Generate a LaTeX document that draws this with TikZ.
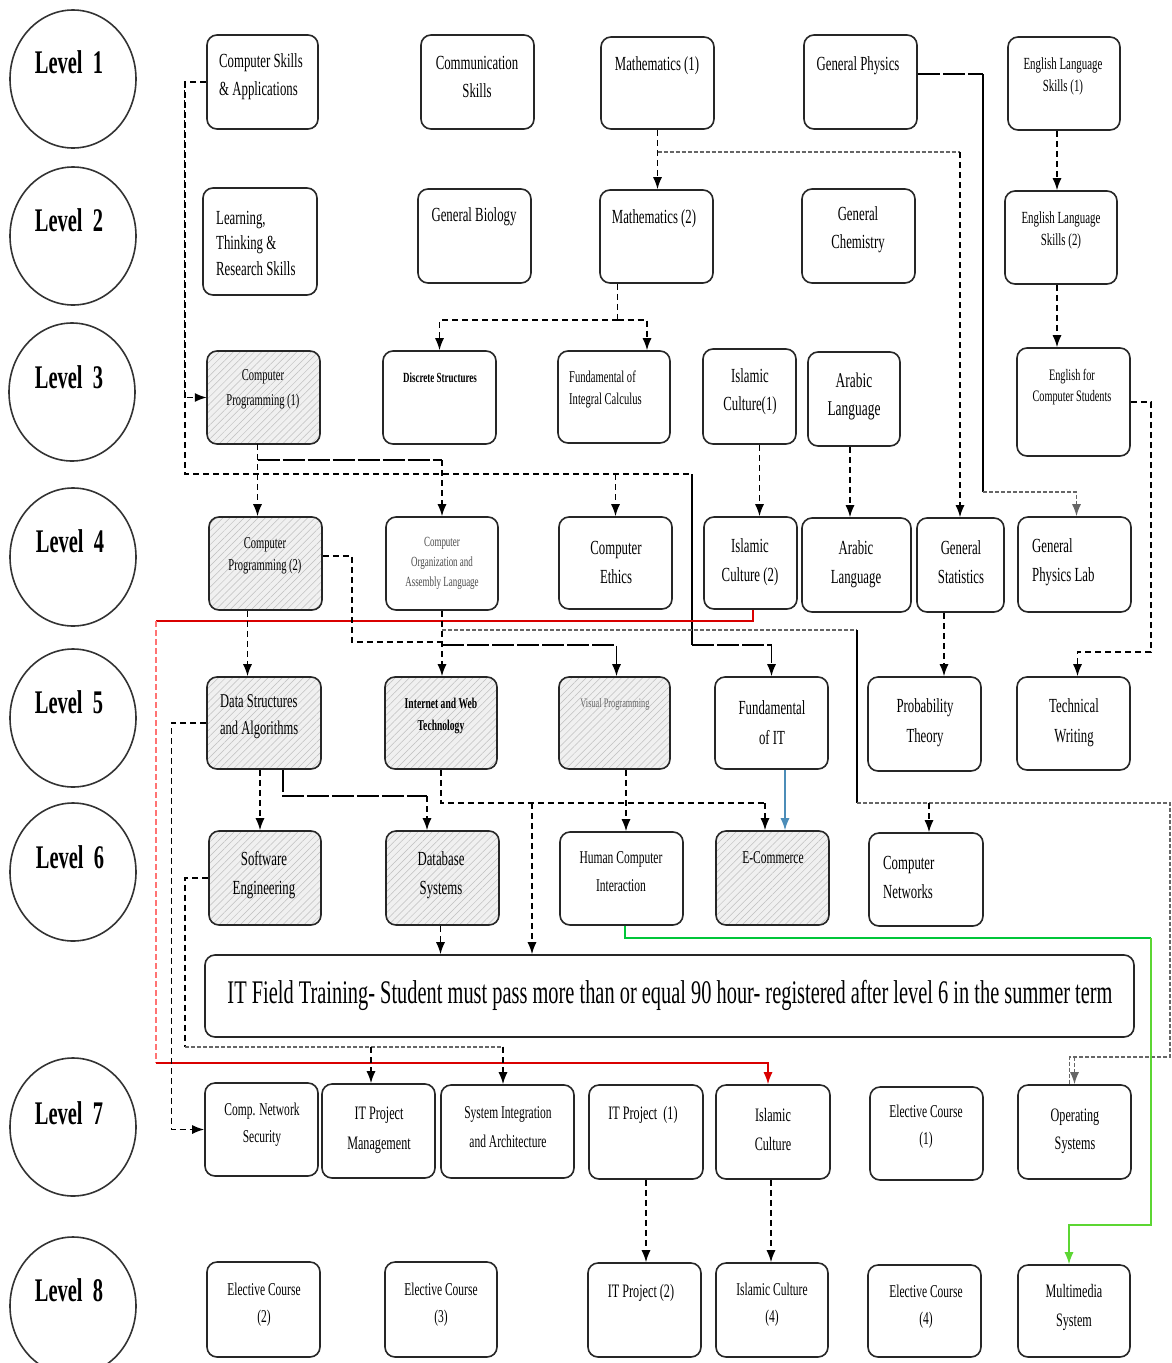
\documentclass[tikz,border=0pt]{standalone}
\usepackage{fontspec}
\usepackage{graphicx}
\newfontfamily\cf{Liberation Serif}[FakeStretch=0.64]
\newfontfamily\lf{Liberation Serif}[FakeStretch=0.62]
\usetikzlibrary{arrows.meta,shapes.geometric,fit,patterns.meta}
\newcommand\fs[2]{\cf\fontsize{#1}{#2}\selectfont}
\newcommand\cbox[6][]{\node[box,#1,fit={(#3,#4) (#5,#6)}] (#2) {};}
\tikzset{
  box/.style={draw=black!85, line width=1.6pt, rounded corners=10pt, inner sep=0pt},
  hatch/.style={preaction={fill=gray!12}, pattern={Lines[angle=45,distance=5pt,line width=0.5pt]}, pattern color=gray!50},
  tx/.style={inner sep=0pt, align=center, font=\fs{20}{28}},
  lvl/.style={ellipse, draw=black!80, line width=1.6pt, minimum width=126pt, minimum height=138pt, inner sep=0pt},
  lvltx/.style={inner sep=0pt, font=\lf\bfseries\fontsize{33}{33}\selectfont},
  conn/.style={line width=1.4pt, draw=black},
  dsh/.style={conn, dash pattern=on 6pt off 4pt},
  ldash/.style={conn, dash pattern=on 22pt off 3pt},
  gd/.style={conn, draw=black!60, dash pattern=on 4pt off 2pt},
  redl/.style={conn, draw=red!85!black},
  redd/.style={conn, draw=red!55, dash pattern=on 6pt off 3pt},
  bluel/.style={conn, draw=blue!40!cyan!60!black!70, line width=1.3pt},
  greenA/.style={conn, draw=green!55!teal, line width=1.3pt},
  greenB/.style={conn, draw=green!60!olive!80, line width=1.3pt},
  >={Latex[length=12pt,width=9pt]}
}
\begin{document}
\begin{tikzpicture}[x=1pt,y=-1pt]
\useasboundingbox (0,0) rectangle (1171,1363);
\fill[white] (0,0) rectangle (1171,1363);

% ---------- level circles ----------
\node[lvl] (L1) at (73,79) {};   \node[lvltx] (L1t) at (69,62) {Level\ \ 1};
\node[lvl] (L2) at (73,236) {};  \node[lvltx] (L2t) at (69,220) {Level\ \ 2};
\node[lvl] (L3) at (72,392) {};  \node[lvltx] (L3t) at (69,377) {Level\ \ 3};
\node[lvl] (L4) at (73,557) {};  \node[lvltx] (L4t) at (70,541) {Level\ \ 4};
\node[lvl] (L5) at (73,718) {};  \node[lvltx] (L5t) at (69,702) {Level\ \ 5};
\node[lvl] (L6) at (73,872) {};  \node[lvltx] (L6t) at (70,857) {Level\ \ 6};
\node[lvl] (L7) at (73,1127) {}; \node[lvltx] (L7t) at (69,1113) {Level\ \ 7};
\node[lvl] (L8) at (73,1306) {}; \node[lvltx] (L8t) at (69,1290) {Level\ \ 8};

% ---------- boxes ----------
\cbox{compskills}{207}{35}{318}{129}
\cbox{comm}{421}{35}{534}{129}
\cbox{math1}{601}{37}{714}{129}
\cbox{gphys}{804}{35}{917}{129}
\cbox{eng1}{1008}{37}{1120}{130}
\cbox{learning}{203}{188}{317}{295}
\cbox{biology}{418}{189}{531}{283}
\cbox{math2}{600}{190}{713}{283}
\cbox{chem}{802}{189}{915}{283}
\cbox{eng2}{1005}{191}{1117}{284}
\cbox[hatch]{cp1}{207}{351}{320}{444}
\cbox{discrete}{383}{351}{496}{444}
\cbox{integral}{558}{351}{670}{443}
\cbox{isl1}{703}{349}{796}{444}
\cbox{arab3}{808}{352}{900}{446}
\cbox{engcs}{1017}{348}{1130}{456}
\cbox[hatch]{cp2}{209}{517}{322}{610}
\cbox{corg}{386}{517}{498}{610}
\cbox{ethics}{559}{517}{672}{609}
\cbox{isl2}{704}{517}{797}{609}
\cbox{arab4}{802}{518}{911}{612}
\cbox{stat}{917}{518}{1004}{612}
\cbox{gplab}{1018}{517}{1131}{612}
\cbox[hatch]{ds}{207}{677}{321}{769}
\cbox[hatch]{web}{385}{677}{497}{769}
\cbox[hatch]{visual}{559}{677}{670}{769}
\cbox{fit}{715}{677}{828}{769}
\cbox{prob}{868}{677}{981}{771}
\cbox{tech}{1017}{677}{1130}{770}
\cbox[hatch]{se}{209}{831}{321}{925}
\cbox[hatch]{db}{386}{831}{499}{925}
\cbox{hci}{560}{832}{683}{925}
\cbox[hatch]{ecom}{716}{831}{829}{925}
\cbox{net}{869}{833}{983}{926}
\cbox{training}{205}{955}{1134}{1037}
\cbox{cns}{205}{1083}{318}{1176}
\cbox{itpm}{322}{1084}{435}{1178}
\cbox{sia}{441}{1085}{574}{1178}
\cbox{itp1}{589}{1085}{703}{1179}
\cbox{isl7}{716}{1085}{830}{1179}
\cbox{el1}{870}{1087}{983}{1180}
\cbox{os}{1018}{1085}{1131}{1179}
\cbox{el2}{207}{1262}{320}{1357}
\cbox{el3}{385}{1262}{497}{1357}
\cbox{itp2}{588}{1263}{701}{1357}
\cbox{isl8}{716}{1263}{828}{1357}
\cbox{el4}{868}{1265}{981}{1357}
\cbox{mm}{1018}{1265}{1130}{1357}

% ---------- texts ----------
\node[tx,anchor=west,align=left] (compskillst) at (219,76.5) {Computer Skills\\\& Applications};
\node[tx] (commt) at (477,76.5) {Communication\\Skills};
\node[tx] (math1t) at (657,66) {Mathematics (1)};
\node[tx] (gphyst) at (858,66) {General Physics};
\node[tx,font=\fs{17}{22}] (eng1t) at (1063,76) {English Language\\Skills (1)};
\node[tx,anchor=west,align=left,font=\fs{20}{25.5}] (learningt) at (216,243) {Learning,\\Thinking \&\\Research Skills};
\node[tx] (biologyt) at (474,217) {General Biology};
\node[tx] (math2t) at (654,219) {Mathematics (2)};
\node[tx] (chemt) at (858,229.5) {General\\Chemistry};
\node[tx,font=\fs{17}{22}] (eng2t) at (1061,230) {English Language\\Skills (2)};
\node[tx,font=\fs{16.5}{25}] (cp1t) at (263,389.5) {Computer\\Programming (1)};
\node[tx,font=\fs{14}{18}\bfseries] (discretet) at (440,378) {Discrete Structures};
\node[tx,anchor=west,align=left,font=\fs{16.5}{22}] (integralt) at (569,389) {Fundamental of\\Integral Calculus};
\node[tx] (isl1t) at (750,391.5) {Islamic\\Culture(1)};
\node[tx,font=\fs{21}{28}] (arab3t) at (854,396) {Arabic\\Language};
\node[tx,font=\fs{16}{21}] (engcst) at (1072,387.5) {English for\\Computer Students};
\node[tx,font=\fs{16.5}{22}] (cp2t) at (265,556) {Computer\\Programming (2)};
\node[tx,font=\fs{14}{20},text=black!70] (corgt) at (442,563) {Computer\\Organization and\\Assembly Language};
\node[tx,font=\fs{20}{29}] (ethicst) at (616,562.5) {Computer\\Ethics};
\node[tx,font=\fs{20}{29}] (isl2t) at (750,562.5) {Islamic\\Culture (2)};
\node[tx,font=\fs{20}{29}] (arab4t) at (856,564) {Arabic\\Language};
\node[tx,font=\fs{20}{29}] (statt) at (961,562.5) {General\\Statistics};
\node[tx,font=\fs{20}{29},anchor=west,align=left] (gplabt) at (1032,562.5) {General\\Physics Lab};
\node[tx,anchor=west,align=left,font=\fs{19.5}{27}] (dst) at (220,716.5) {Data Structures\\and Algorithms};
\node[tx,font=\fs{15}{22}\bfseries] (webt) at (441,716) {Internet and Web\\Technology};
\node[tx,font=\fs{13}{16},text=black!60] (visualt) at (615,704) {Visual Programming};
\node[tx,font=\fs{20}{30}] (fitt) at (772,723) {Fundamental\\of IT};
\node[tx,font=\fs{20}{30}] (probt) at (925,723) {Probability\\Theory};
\node[tx,font=\fs{20}{30}] (techt) at (1074,723) {Technical\\Writing};
\node[tx,font=\fs{20}{29}] (set) at (264,875.5) {Software\\Engineering};
\node[tx,font=\fs{20}{29}] (dbt) at (441,875.5) {Database\\Systems};
\node[tx,font=\fs{18}{28}] (hcit) at (621,872) {Human Computer\\Interaction};
\node[tx,font=\fs{18}{22}] (ecomt) at (773,858) {E-Commerce};
\node[tx,font=\fs{20}{29},anchor=west,align=left] (nett) at (883,877.5) {Computer\\Networks};
\node[tx,font=\fs{33}{36}] (trainingt) at (670,995) {\resizebox{885pt}{\height}{IT Field Training- Student must pass more than or equal 90 hour- registered after level 6 in the summer term}};
\node[tx,font=\fs{18}{27}] (cnst) at (262,1124.5) {Comp. Network\\Security};
\node[tx,font=\fs{19}{30}] (itpmt) at (379,1130) {IT Project\\Management};
\node[tx,font=\fs{18}{29}] (siat) at (508,1127.5) {System Integration\\and Architecture};
\node[tx,font=\fs{19}{24}] (itp1t) at (643,1115) {IT Project\ \ (1)};
\node[tx,font=\fs{19}{29}] (isl7t) at (773,1129.5) {Islamic\\Culture};
\node[tx,font=\fs{18}{27}] (el1t) at (926,1126.5) {Elective Course\\(1)};
\node[tx,font=\fs{19}{28}] (ost) at (1075,1131) {Operating\\Systems};
\node[tx,font=\fs{18}{27}] (el2t) at (264,1304.5) {Elective Course\\(2)};
\node[tx,font=\fs{18}{27}] (el3t) at (441,1304.5) {Elective Course\\(3)};
\node[tx,font=\fs{19}{24}] (itp2t) at (641,1293) {IT Project (2)};
\node[tx,font=\fs{18}{27}] (isl8t) at (772,1304.5) {Islamic Culture\\(4)};
\node[tx,font=\fs{18}{27}] (el4t) at (926,1306.5) {Elective Course\\(4)};
\node[tx,font=\fs{19}{29}] (mmt) at (1074,1307.5) {Multimedia\\System};

% ---------- named bend points ----------
\coordinate (csA) at (185,474);
\coordinate (csB) at (692,474);
\coordinate (fitj) at (692,645);
\coordinate (m1a) at (657.5,152);
\coordinate (m1b) at (960,152);
\coordinate (gpa) at (983,74);
\coordinate (gpb) at (983,492);
\coordinate (eca) at (1151,402);
\coordinate (ecb) at (1151,652);
\coordinate (m2j) at (617.5,320);
\coordinate (c1j) at (257.5,460);
\coordinate (c2a) at (352,556);
\coordinate (c2b) at (352,642);
\coordinate (c2c) at (442,642);
\coordinate (vj) at (442,645);
\coordinate (nj1) at (442,630);
\coordinate (nj2) at (857,630);
\coordinate (nj3) at (857,803);
\coordinate (nj4) at (1170,803);
\coordinate (nj5) at (1170,1057);
\coordinate (ra) at (753,621);
\coordinate (rb) at (156,621);
\coordinate (rc) at (156,1063);
\coordinate (dbj) at (427,796);
\coordinate (wa) at (441,803);
\coordinate (wb) at (765,803);
\coordinate (wt) at (532,803);
\coordinate (sa) at (185,1047);
\coordinate (sb) at (503,1047);
\coordinate (sc) at (371,1047);
\coordinate (ga) at (1151,938);
\coordinate (gb) at (1151,1225);
\coordinate (gc) at (1069,1225);

% ---------- connectors ----------
% Computer Skills
\draw[dsh,->] (compskills.west) -- ++(-22,0) |- (cp1.west);
\draw[dsh] (compskills.west -| csA) -- (csA) -- (csB);
\draw[dsh,->] (csA -| ethics.north) -- (ethics.north);
\draw[conn] (csB) -- (fitj);
\draw[ldash,->] (fitj) -| (fit.north);
% Mathematics
\draw[dsh,->] (math1.south) -- (math1.south |- math2.north);
\draw[gd] (m1a) -- (m1b);
\draw[dsh,->] (m1b) -- (m1b |- stat.north);
\draw[dsh] ([xshift=-39pt]math2.south) -- (m2j);
\draw[dsh,->] (m2j) -| (discrete.north);
\draw[dsh,->] (m2j) -| ([xshift=33pt]integral.north);
% General Physics
\draw[ldash] ([yshift=8pt]gphys.east) -- (gpa);
\draw[conn] (gpa) -- (gpb);
\draw[gd,->] (gpb) -| ([xshift=2pt]gplab.north);
% English
\draw[dsh,->] ([xshift=-7pt]eng1.south) -- ([xshift=-7pt]eng1.south |- eng2.north);
\draw[dsh,->] ([xshift=-4pt]eng2.south) -- ([xshift=-4pt]eng2.south |- engcs.north);
\draw[dsh,->] (engcs.east) -- (eca) -- (ecb) -| ([xshift=4pt]tech.north);
% Islamic / Arabic
\draw[dsh,->] ([xshift=10pt]isl1.south) -- ([xshift=10pt]isl1.south |- isl2.north);
\draw[dsh,->] ([xshift=-4pt]arab3.south) -- ([xshift=-4pt]arab3.south |- arab4.north);
\draw[redl] ([xshift=2.5pt]isl2.south) -- (ra) -- (rb);
\draw[redd] (rb) -- (rc);
\draw[redl,->] (rc) -| ([xshift=-5pt]isl7.north);
\draw[dsh,->] ([xshift=-2pt]isl7.south) -- ([xshift=-2pt]isl7.south |- isl8.north);
% Programming chain
\draw[dsh,->] ([xshift=-6pt]cp1.south) -- ([xshift=-6pt]cp1.south |- cp2.north);
\draw[ldash] (c1j) -- (c1j -| corg.north);
\draw[dsh,->] (c1j -| corg.north) -- (corg.north);
\draw[dsh,->] ([xshift=-18pt]cp2.south) -- ([xshift=-18pt]cp2.south |- ds.north);
\draw[dsh] ([yshift=7.5pt]cp2.east) -- (c2a) -- (c2b) -- (c2c);
\draw[ldash,->] (vj) -| ([xshift=2pt]visual.north);
\draw[dsh,->] (corg.south) -- (corg.south |- web.north);
\draw[gd] (nj1) -- (nj2);
\draw[conn] (nj2) -- (nj3);
\draw[gd] (nj3) -- (nj4) -- (nj5) -| ([xshift=-5pt]os.north);
\draw[dsh,->] ([xshift=3pt]net.north |- nj3) -- ([xshift=3pt]net.north);
\draw[gd,->] (nj5 -| os.north) -- (os.north);
% Data structures
\draw[dsh,->] ([xshift=-4pt]ds.south) -- ([xshift=-4pt]ds.south |- se.north);
\draw[ldash] ([xshift=19pt]ds.south) |- (dbj);
\draw[dsh,->] (dbj) -- (dbj |- db.north);
\draw[dsh,->] (ds.west) -- ++(-35,0) |- (cns.west);
% Internet & Web
\draw[dsh] (web.south) -- (wa) -- (wb);
\draw[dsh,->] (wb) -- (wb |- ecom.north);
\draw[dsh,->] (wt) -- (wt |- training.north);
\draw[dsh,->] ([xshift=11.5pt]visual.south) -- ([xshift=11.5pt]visual.south |- hci.north);
\draw[bluel,->] ([xshift=13.5pt]fit.south) -- ([xshift=13.5pt]fit.south |- ecom.north);
\draw[dsh,->] ([xshift=-2pt]db.south) -- ([xshift=-2pt]db.south |- training.north);
% Software engineering
\draw[dsh] (se.west) -| (sa);
\draw[gd] (sa) -- (sb);
\draw[dsh,->] (sb) -- (sb |- sia.north);
\draw[dsh,->] (sc) -- (sc |- itpm.north);
% Statistics
\draw[dsh,->] ([xshift=-16.5pt]stat.south) -- ([xshift=-16.5pt]stat.south |- prob.north);
% HCI -> Multimedia
\draw[greenA] ([xshift=3.5pt]hci.south) |- (ga);
\draw[greenB,->] (ga) -- (gb) -- (gc) -- (gc |- mm.north);
% IT project
\draw[dsh,->] (itp1.south) -- (itp1.south |- itp2.north);
\end{tikzpicture}
\end{document}
